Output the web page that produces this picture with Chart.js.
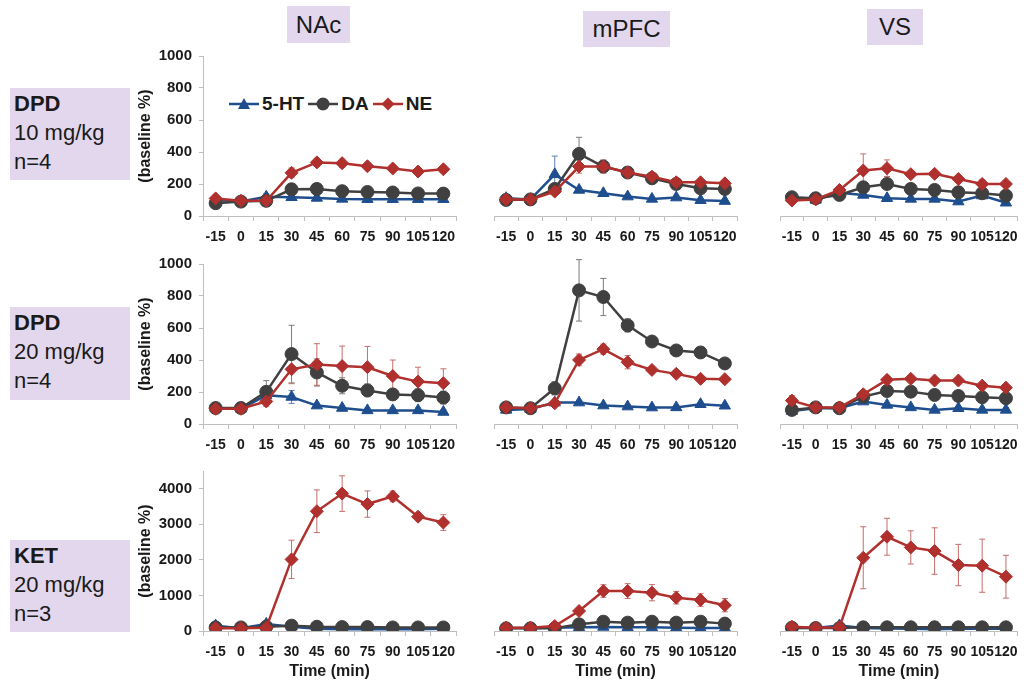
<!DOCTYPE html>
<html lang="en">
<head>
    <meta charset="UTF-8">
    <title>Microdialysis time course: 5-HT, DA, NE</title>
    <script src="https://cdn.jsdelivr.net/npm/chart.js"></script>
    <style>
        body { margin: 0; background: #fff; font-family: "Liberation Sans", Arial, sans-serif; }
        #wrap { position: relative; width: 1026px; height: 681px; overflow: hidden; }
        #wrap canvas { position: absolute; }
        .tag { position: absolute; background: #e3d7ed; color: #1a1a1a; }
        .col-tag { font-size: 24px; text-align: center; }
        .row-tag { font-size: 22px; line-height: 29px; padding: 1px 0 0 4px; box-sizing: border-box; white-space: nowrap; }
        .row-tag b { font-weight: bold; }
        #legend { position: absolute; left: 229px; top: 93px; font-weight: bold; font-size: 19px; color: #1a1a1a; display: flex; align-items: center; }
        #legend span { margin-right: 4px; }
        #legend svg { margin-right: 3px; }
    </style>
</head>
<body>
<div id="wrap">
    <div class="tag col-tag" style="left:287px; top:6px; width:63px; height:37px; line-height:37px;">NAc</div>
    <div class="tag col-tag" style="left:583px; top:11px; width:87px; height:36px; line-height:36px;">mPFC</div>
    <div class="tag col-tag" style="left:867px; top:9px; width:56px; height:36px; line-height:36px;">VS</div>

    <div class="tag row-tag" style="left:10px; top:88px; width:120px; height:92px;"><b>DPD</b><br>10 mg/kg<br>n=4</div>
    <div class="tag row-tag" style="left:10px; top:307px; width:120px; height:93px;"><b>DPD</b><br>20 mg/kg<br>n=4</div>
    <div class="tag row-tag" style="left:10px; top:540px; width:120px; height:92px;"><b>KET</b><br>20 mg/kg<br>n=3</div>

    <div id="legend">
        <svg width="30" height="14"><line x1="0" y1="7" x2="30" y2="7" stroke="#1f4e8f" stroke-width="2.5"/><polygon points="15,1 21,12 9,12" fill="#1f4e8f"/></svg><span>5-HT</span>
        <svg width="30" height="14"><line x1="0" y1="7" x2="30" y2="7" stroke="#404040" stroke-width="2.5"/><circle cx="15" cy="7" r="6.5" fill="#404040"/></svg><span>DA</span>
        <svg width="30" height="14"><line x1="0" y1="7" x2="30" y2="7" stroke="#b0302e" stroke-width="2.5"/><polygon points="15,0.5 21.5,7 15,13.5 8.5,7" fill="#b0302e"/></svg><span>NE</span>
    </div>
</div>

<script>
    const timeLabels = ['-15', '0', '15', '30', '45', '60', '75', '90', '105', '120'];
    const yTicksDPD = [0, 200, 400, 600, 800, 1000];
    const yTicksKET = [0, 1000, 2000, 3000, 4000];

    // DPD 10 mg/kg
    const nacD10_HT = [100, 90, 120, 117, 113, 107, 105, 105, 105, 105];
    const nacD10_DA = [80, 90, 95, 167, 169, 155, 150, 147, 141, 140];
    const nacD10_NE = [110, 95, 95, 270, 335, 330, 311, 297, 278, 292];
    const nacD10_HTe = [30, 5, 20, 10, 5, 5, 5, 5, 5, 5];
    const nacD10_DAe = [10, 10, 10, 15, 15, 15, 10, 10, 10, 10];
    const nacD10_NEe = [15, 10, 10, 30, 25, 25, 20, 20, 20, 20];

    const pfcD10_HT = [107, 100, 251, 157, 137, 117, 103, 111, 95, 90];
    const pfcD10_DA = [97, 100, 163, 374, 298, 262, 227, 193, 167, 163];
    const pfcD10_NE = [100, 100, 147, 298, 298, 262, 237, 203, 203, 197];
    const pfcD10_HTe = [20, 10, 110, 15, 10, 10, 10, 10, 10, 10];
    const pfcD10_DAe = [10, 10, 20, 100, 30, 20, 15, 15, 20, 20];
    const pfcD10_NEe = [10, 10, 15, 40, 40, 25, 20, 15, 15, 15];

    const vsD10_HT = [107, 97, 140, 127, 107, 103, 103, 87, 123, 80];
    const vsD10_DA = [113, 107, 127, 173, 193, 163, 157, 143, 137, 123];
    const vsD10_NE = [93, 100, 157, 274, 288, 252, 254, 223, 193, 193];
    const vsD10_HTe = [10, 10, 30, 15, 10, 10, 10, 15, 15, 15];
    const vsD10_DAe = [10, 10, 15, 20, 20, 15, 10, 10, 10, 10];
    const vsD10_NEe = [20, 10, 20, 100, 50, 20, 20, 20, 25, 15];

    // DPD 20 mg/kg
    const nacD20_HT = [100, 95, 179, 169, 115, 100, 85, 85, 85, 75];
    const nacD20_DA = [100, 100, 201, 437, 322, 239, 210, 185, 180, 165];
    const nacD20_NE = [95, 95, 141, 342, 372, 362, 355, 300, 265, 255];
    const nacD20_HTe = [10, 10, 20, 40, 15, 15, 15, 15, 15, 15];
    const nacD20_DAe = [10, 10, 70, 180, 85, 50, 40, 35, 40, 40];
    const nacD20_NEe = [10, 10, 30, 90, 130, 125, 130, 100, 90, 90];

    const pfcD20_HT = [85, 90, 129, 129, 111, 105, 99, 100, 119, 110];
    const pfcD20_DA = [100, 95, 215, 805, 765, 594, 497, 443, 431, 365];
    const pfcD20_NE = [100, 95, 125, 386, 451, 372, 326, 302, 272, 270];
    const pfcD20_HTe = [10, 10, 10, 10, 10, 10, 10, 10, 10, 10];
    const pfcD20_DAe = [10, 10, 40, 185, 112, 40, 25, 15, 15, 30];
    const pfcD20_NEe = [10, 10, 15, 35, 30, 40, 20, 20, 15, 15];

    const vsD20_HT = [78, 95, 95, 135, 115, 100, 85, 95, 85, 85];
    const vsD20_DA = [85, 100, 95, 165, 199, 195, 175, 169, 161, 155];
    const vsD20_NE = [141, 100, 100, 179, 266, 272, 262, 262, 231, 219];
    const vsD20_HTe = [10, 5, 5, 10, 10, 10, 10, 10, 10, 10];
    const vsD20_DAe = [10, 5, 10, 15, 15, 10, 10, 10, 10, 10];
    const vsD20_NEe = [30, 10, 10, 20, 20, 15, 15, 15, 15, 15];

    // KET 20 mg/kg
    const nacK20_HT = [150, 80, 200, 120, 60, 50, 50, 50, 50, 60];
    const nacK20_DA = [100, 100, 120, 150, 120, 110, 110, 100, 100, 100];
    const nacK20_NE = [80, 80, 90, 2014, 3368, 3865, 3570, 3785, 3215, 3050];
    const nacK20_HTe = [120, 20, 80, 30, 20, 20, 20, 20, 20, 20];
    const nacK20_DAe = [30, 20, 40, 40, 20, 20, 20, 20, 20, 20];
    const nacK20_NEe = [40, 20, 40, 540, 600, 500, 370, 150, 100, 220];

    const pfcK20_HT = [80, 80, 90, 100, 110, 100, 100, 90, 80, 80];
    const pfcK20_DA = [72, 72, 72, 180, 253, 226, 253, 226, 253, 200];
    const pfcK20_NE = [90, 90, 135, 542, 1083, 1083, 1038, 903, 840, 700];
    const pfcK20_HTe = [10, 10, 10, 10, 10, 10, 10, 10, 10, 10];
    const pfcK20_DAe = [10, 10, 10, 30, 30, 30, 30, 30, 30, 30];
    const pfcK20_NEe = [30, 20, 30, 60, 170, 200, 220, 170, 170, 180];

    const vsK20_HT = [80, 80, 150, 80, 70, 60, 50, 60, 60, 60];
    const vsK20_DA = [90, 80, 80, 100, 100, 100, 100, 100, 100, 100];
    const vsK20_NE = [117, 90, 99, 1986, 2555, 2266, 2167, 1788, 1770, 1472];
    const vsK20_HTe = [20, 10, 30, 10, 10, 10, 10, 10, 10, 10];
    const vsK20_DAe = [20, 10, 10, 20, 20, 20, 20, 20, 20, 20];
    const vsK20_NEe = [40, 20, 30, 840, 500, 450, 630, 560, 720, 580];

    const panels = [
        [0, 0, nacD10_HT, nacD10_DA, nacD10_NE, nacD10_HTe, nacD10_DAe, nacD10_NEe],
        [1, 0, pfcD10_HT, pfcD10_DA, pfcD10_NE, pfcD10_HTe, pfcD10_DAe, pfcD10_NEe],
        [2, 0, vsD10_HT, vsD10_DA, vsD10_NE, vsD10_HTe, vsD10_DAe, vsD10_NEe],
        [0, 1, nacD20_HT, nacD20_DA, nacD20_NE, nacD20_HTe, nacD20_DAe, nacD20_NEe],
        [1, 1, pfcD20_HT, pfcD20_DA, pfcD20_NE, pfcD20_HTe, pfcD20_DAe, pfcD20_NEe],
        [2, 1, vsD20_HT, vsD20_DA, vsD20_NE, vsD20_HTe, vsD20_DAe, vsD20_NEe],
        [0, 2, nacK20_HT, nacK20_DA, nacK20_NE, nacK20_HTe, nacK20_DAe, nacK20_NEe],
        [1, 2, pfcK20_HT, pfcK20_DA, pfcK20_NE, pfcK20_HTe, pfcK20_DAe, pfcK20_NEe],
        [2, 2, vsK20_HT, vsK20_DA, vsK20_NE, vsK20_HTe, vsK20_DAe, vsK20_NEe]
    ];

    // grid placement of each panel
    const cols = [
        { left: 134, width: 332, padL: 0, padR: 10, yW: 69 },
        { left: 470, width: 280, padL: 24, padR: 13, yW: 0 },
        { left: 756, width: 270, padL: 24, padR: 2, yW: 0 }
    ];
    const rows = [
        { top: 40, height: 206, xH: 30, max: 1000, ticks: yTicksDPD },
        { top: 248, height: 206, xH: 30, max: 1000, ticks: yTicksDPD },
        { top: 455, height: 226, xH: 50, max: 4500, ticks: yTicksKET }
    ];

    Chart.defaults.font.family = '"Liberation Sans", Arial, sans-serif';
    Chart.defaults.color = '#1a1a1a';

    // symmetric error bars drawn under the lines
    const errorBars = {
        id: 'errorBars',
        beforeDatasetsDraw(chart) {
            const ctx = chart.ctx;
            const y = chart.scales.y;
            chart.data.datasets.forEach((ds, i) => {
                const meta = chart.getDatasetMeta(i);
                ctx.save();
                ctx.strokeStyle = ds.errColor;
                ctx.lineWidth = 1;
                meta.data.forEach((pt, j) => {
                    const e = ds.errors[j];
                    if (!e) return;
                    const v = ds.data[j];
                    const yt = y.getPixelForValue(v + e);
                    const yb = Math.min(y.getPixelForValue(v - e), y.bottom);
                    ctx.beginPath();
                    ctx.moveTo(pt.x, yt); ctx.lineTo(pt.x, yb);
                    ctx.moveTo(pt.x - 3, yt); ctx.lineTo(pt.x + 3, yt);
                    ctx.moveTo(pt.x - 3, yb); ctx.lineTo(pt.x + 3, yb);
                    ctx.stroke();
                });
                ctx.restore();
            });
        }
    };

    const wrap = document.getElementById('wrap');

    panels.forEach(([c, r, ht, da, ne, htE, daE, neE]) => {
        const col = cols[c], row = rows[r];
        const canvas = document.createElement('canvas');
        canvas.width = col.width;
        canvas.height = row.height;
        canvas.style.left = col.left + 'px';
        canvas.style.top = row.top + 'px';
        wrap.appendChild(canvas);

        const first = c === 0;
        new Chart(canvas, {
            type: 'line',
            data: {
                labels: timeLabels,
                datasets: [
                    { label: '5-HT', data: ht, errors: htE, errColor: '#5b7fb5', order: 3,
                      borderColor: '#1f4e8f', backgroundColor: '#1f4e8f', pointStyle: 'triangle', pointRadius: 6.5 },
                    { label: 'DA', data: da, errors: daE, errColor: '#7a7a7a', order: 2,
                      borderColor: '#404040', backgroundColor: '#404040', pointStyle: 'circle', pointRadius: 6.5 },
                    { label: 'NE', data: ne, errors: neE, errColor: '#c46e6a', order: 1,
                      borderColor: '#b0302e', backgroundColor: '#b0302e', pointStyle: 'rectRot', pointRadius: 6.5 }
                ].map(d => Object.assign(d, { borderWidth: 2.5, pointBorderWidth: 1, tension: 0 }))
            },
            options: {
                responsive: false,
                animation: false,
                layout: { padding: { top: 10, left: col.padL, right: col.padR, bottom: 0 } },
                plugins: { legend: { display: false }, tooltip: { enabled: false } },
                scales: {
                    x: {
                        offset: true,
                        grid: { offset: true, drawOnChartArea: false, drawTicks: true, tickLength: 5, color: '#bfbfbf' },
                        border: { color: '#bfbfbf' },
                        ticks: { autoSkip: false, maxRotation: 0, minRotation: 0, padding: 8,
                                 font: { size: 14, weight: 'bold' }, color: '#1a1a1a' },
                        title: { display: r === 2, text: 'Time (min)', padding: { top: 0, bottom: 0 },
                                 font: { size: 16, weight: 'bold' }, color: '#1a1a1a' },
                        afterFit: s => { s.height = row.xH; }
                    },
                    y: {
                        display: first,
                        min: 0,
                        max: row.max,
                        grid: { drawOnChartArea: false, drawTicks: true, tickLength: 4, color: '#bfbfbf' },
                        border: { color: '#bfbfbf' },
                        ticks: { autoSkip: false, padding: 7, font: { size: 15, weight: 'bold' }, color: '#1a1a1a',
                                 callback: v => String(v) },
                        afterBuildTicks: s => { s.ticks = row.ticks.map(v => ({ value: v })); },
                        title: { display: true, text: '(baseline %)', padding: { top: 2, bottom: 4 },
                                 font: { size: 16, weight: 'bold' }, color: '#1a1a1a' },
                        afterFit: s => { s.width = col.yW; }
                    }
                }
            },
            plugins: [errorBars]
        });
    });
</script>
</body>
</html>
